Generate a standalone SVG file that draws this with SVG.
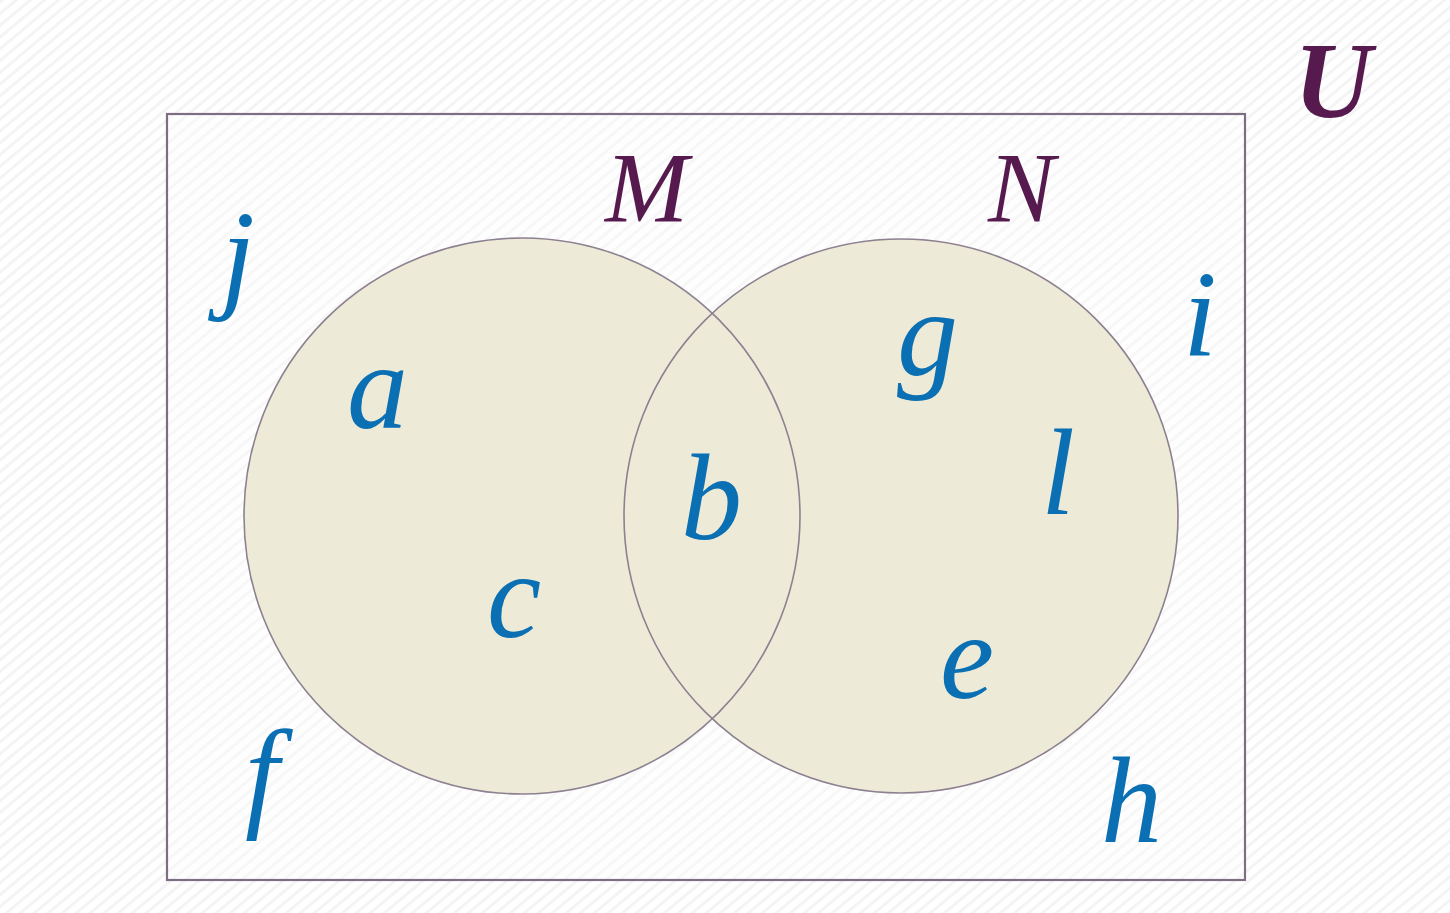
<svg xmlns="http://www.w3.org/2000/svg" width="1450" height="913" viewBox="0 0 1450 913">
<defs>
<pattern id="stripes" width="9" height="9" patternUnits="userSpaceOnUse" patternTransform="rotate(-40)">
<rect width="9" height="9" fill="#ffffff"/>
<rect width="9" height="3" fill="#f4f4f4"/>
</pattern>
</defs>
<rect width="1450" height="913" fill="url(#stripes)"/>
<g id="universe">
<rect x="167" y="114" width="1078" height="766" fill="#fffcff" fill-opacity="0.35" stroke="#7d6e84" stroke-width="2.2"/>
<text x="1294" y="117" fill="#561a4f" font-family="Times New Roman, Liberation Serif, serif" font-weight="bold" font-style="italic" font-size="108">U</text>
</g>
<g id="setM" fill="#edebd7">
<circle cx="522" cy="516" r="278"/>
</g>
<g id="setN" fill="#edebd7">
<circle cx="901" cy="516" r="277"/>
</g>
<g id="outlines" fill="none" stroke="#8d8090" stroke-width="1.6">
<circle cx="522" cy="516" r="278"/>
<circle cx="901" cy="516" r="277"/>
</g>
<g id="labels" fill="#561a4f">
<text x="605" y="221" font-family="Times New Roman, Liberation Serif, serif" font-style="italic" font-size="100">M</text>
<text x="988" y="221" font-family="Times New Roman, Liberation Serif, serif" font-style="italic" font-size="100">N</text>
</g>
<g id="elements" fill="#0a6fb3">
<text x="221" y="296" font-family="Times New Roman, Liberation Serif, serif" font-style="italic" font-size="122">j</text>
<text x="347" y="428" font-family="Times New Roman, Liberation Serif, serif" font-style="italic" font-size="122">a</text>
<text x="487" y="637" font-family="Times New Roman, Liberation Serif, serif" font-style="italic" font-size="122">c</text>
<text x="681" y="539" font-family="Times New Roman, Liberation Serif, serif" font-style="italic" font-size="122">b</text>
<text x="897" y="375" font-family="Times New Roman, Liberation Serif, serif" font-style="italic" font-size="122">g</text>
<text x="1183" y="355" font-family="Times New Roman, Liberation Serif, serif" font-style="italic" font-size="122">i</text>
<text x="1041" y="514" font-family="Times New Roman, Liberation Serif, serif" font-style="italic" font-size="122">l</text>
<text x="940" y="698" font-family="Times New Roman, Liberation Serif, serif" font-style="italic" font-size="122">e</text>
<text x="245" y="815" font-family="Times New Roman, Liberation Serif, serif" font-style="italic" font-size="122">f</text>
<text x="1101" y="842" font-family="Times New Roman, Liberation Serif, serif" font-style="italic" font-size="122">h</text>
</g>
</svg>
